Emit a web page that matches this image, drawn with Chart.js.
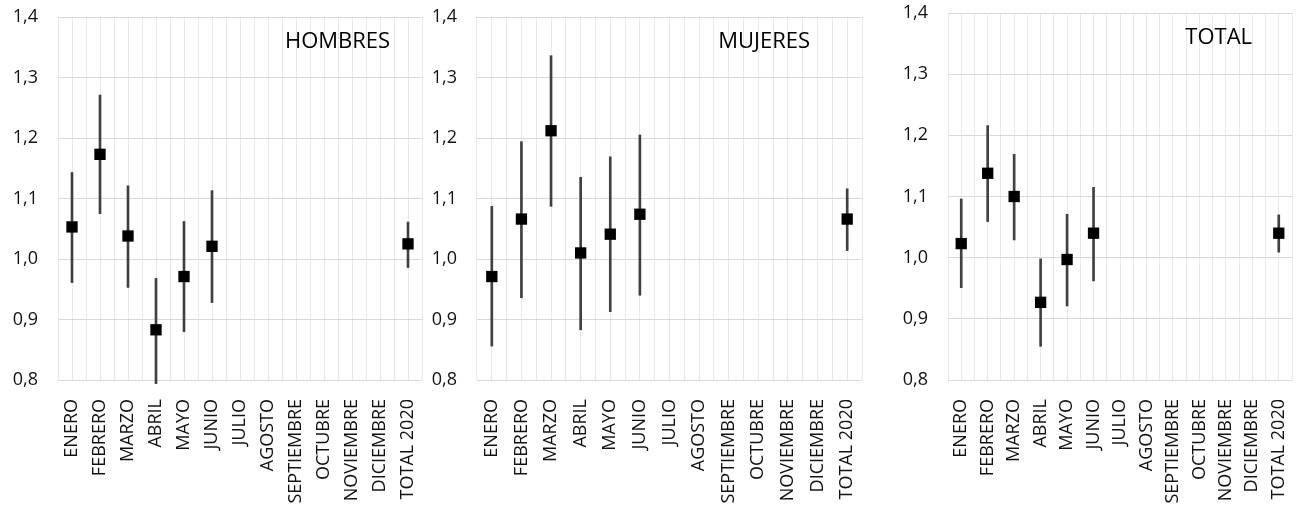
<!DOCTYPE html>
<html>
<head>
<meta charset="utf-8">
<script src="https://cdn.jsdelivr.net/npm/chart.js@4"></script>
<style>
  body { margin: 0; background: #fff; }
  canvas { position: absolute; top: 0; }
</style>
</head>
<body>
<canvas id="hombres" width="430" height="510" style="left:0"></canvas>
<canvas id="mujeres" width="440" height="510" style="left:430px"></canvas>
<canvas id="total" width="430" height="510" style="left:870px"></canvas>
<script>
var months = ['ENERO', 'FEBRERO', 'MARZO', 'ABRIL', 'MAYO', 'JUNIO', 'JULIO', 'AGOSTO',
    'SEPTIEMBRE', 'OCTUBRE', 'NOVIEMBRE', 'DICIEMBRE', 'TOTAL 2020'];
var yTicks = [0.8, 0.9, 1.0, 1.1, 1.2, 1.3, 1.4];

var hombresValue = [1.053, 1.173, 1.038, 0.883, 0.971, 1.021, null, null, null, null, null, null, 1.025];
var hombresLow   = [0.961, 1.075, 0.953, 0.794, 0.880, 0.928, null, null, null, null, null, null, 0.986];
var hombresHigh  = [1.143, 1.271, 1.121, 0.968, 1.062, 1.113, null, null, null, null, null, null, 1.061];

var mujeresValue = [0.971, 1.066, 1.212, 1.010, 1.041, 1.074, null, null, null, null, null, null, 1.066];
var mujeresLow   = [0.856, 0.936, 1.087, 0.883, 0.913, 0.940, null, null, null, null, null, null, 1.014];
var mujeresHigh  = [1.087, 1.194, 1.336, 1.135, 1.169, 1.205, null, null, null, null, null, null, 1.116];

var totalValue = [1.023, 1.138, 1.100, 0.927, 0.997, 1.040, null, null, null, null, null, null, 1.040];
var totalLow   = [0.951, 1.059, 1.029, 0.855, 0.921, 0.962, null, null, null, null, null, null, 1.009];
var totalHigh  = [1.096, 1.216, 1.169, 0.998, 1.071, 1.115, null, null, null, null, null, null, 1.070];

var FONT = 'Open Sans';

// panel label drawn inside the plot area, top right
var panelTitle = {
    id: 'panelTitle',
    afterDraw: function (chart, args, opts) {
        var a = chart.chartArea, ctx = chart.ctx;
        ctx.save();
        ctx.font = '22px "' + FONT + '"';
        ctx.fillStyle = '#000';
        ctx.textAlign = 'center';
        ctx.textBaseline = 'middle';
        ctx.fillText(opts.text, a.left + a.width * opts.x, a.top + opts.y);
        ctx.restore();
    }
};

function buildPanel(id, title, values, low, high, box) {
    var ranges = low.map(function (l, i) { return l === null ? null : [l, high[i]]; });

    return new Chart(document.getElementById(id), {
        type: 'bar',
        data: {
            labels: months,
            datasets: [{
                type: 'line',
                data: values,
                showLine: false,
                pointStyle: 'rect',
                pointRadius: 8,
                pointBackgroundColor: '#000',
                pointBorderWidth: 0,
                order: 0
            }, {
                type: 'bar',
                data: ranges,
                backgroundColor: '#404040',
                barThickness: 2,
                clip: false,
                order: 1
            }]
        },
        options: {
            responsive: false,
            animation: false,
            layout: { padding: { top: box.top, right: box.right, left: 0, bottom: 0 } },
            plugins: {
                legend: { display: false },
                tooltip: { enabled: false },
                panelTitle: { text: title, x: box.titleX, y: box.titleY }
            },
            scales: {
                x: {
                    type: 'category',
                    offset: true,
                    grid: { offset: true, color: '#e8e8e8', drawTicks: false },
                    border: { display: false },
                    ticks: {
                        autoSkip: false, minRotation: 90, maxRotation: 90, padding: 19,
                        color: '#111', font: { family: FONT, size: 18 }
                    },
                    afterFit: function (s) {
                        s.height = 130;
                        s.paddingLeft = 0;
                        s.paddingRight = 0;
                    }
                },
                x2: {
                    type: 'category',
                    position: 'bottom',
                    offset: true,
                    grid: { offset: false, color: '#e8e8e8', drawTicks: false },
                    border: { display: false },
                    ticks: { display: false },
                    afterFit: function (s) {
                        s.height = 0;
                        s.paddingLeft = 0;
                        s.paddingRight = 0;
                    }
                },
                y: {
                    min: 0.8,
                    max: 1.4,
                    grid: { color: '#d9d9d9', drawTicks: false },
                    border: { display: false },
                    afterBuildTicks: function (s) {
                        s.ticks = yTicks.map(function (v) { return { value: v }; });
                    },
                    ticks: {
                        padding: 20, color: '#111', font: { family: FONT, size: 18 },
                        callback: function (v) { return v.toFixed(1).replace('.', ','); }
                    },
                    afterFit: function (s) {
                        s.width = box.axisWidth;
                        s.paddingTop = 0;
                        s.paddingBottom = 0;
                    }
                }
            }
        },
        plugins: [panelTitle]
    });
}

document.fonts.load('18px "' + FONT + '"').then(function () {
    buildPanel('hombres', 'HOMBRES', hombresValue, hombresLow, hombresHigh,
        { axisWidth: 58, top: 17, right: 4, titleX: 0.768, titleY: 25 });
    buildPanel('mujeres', 'MUJERES', mujeresValue, mujeresLow, mujeresHigh,
        { axisWidth: 47, top: 17, right: 3, titleX: 0.746, titleY: 25 });
    buildPanel('total', 'TOTAL', totalValue, totalLow, totalHigh,
        { axisWidth: 78, top: 13, right: 5, titleX: 0.787, titleY: 25 });
});
</script>
</body>
</html>
